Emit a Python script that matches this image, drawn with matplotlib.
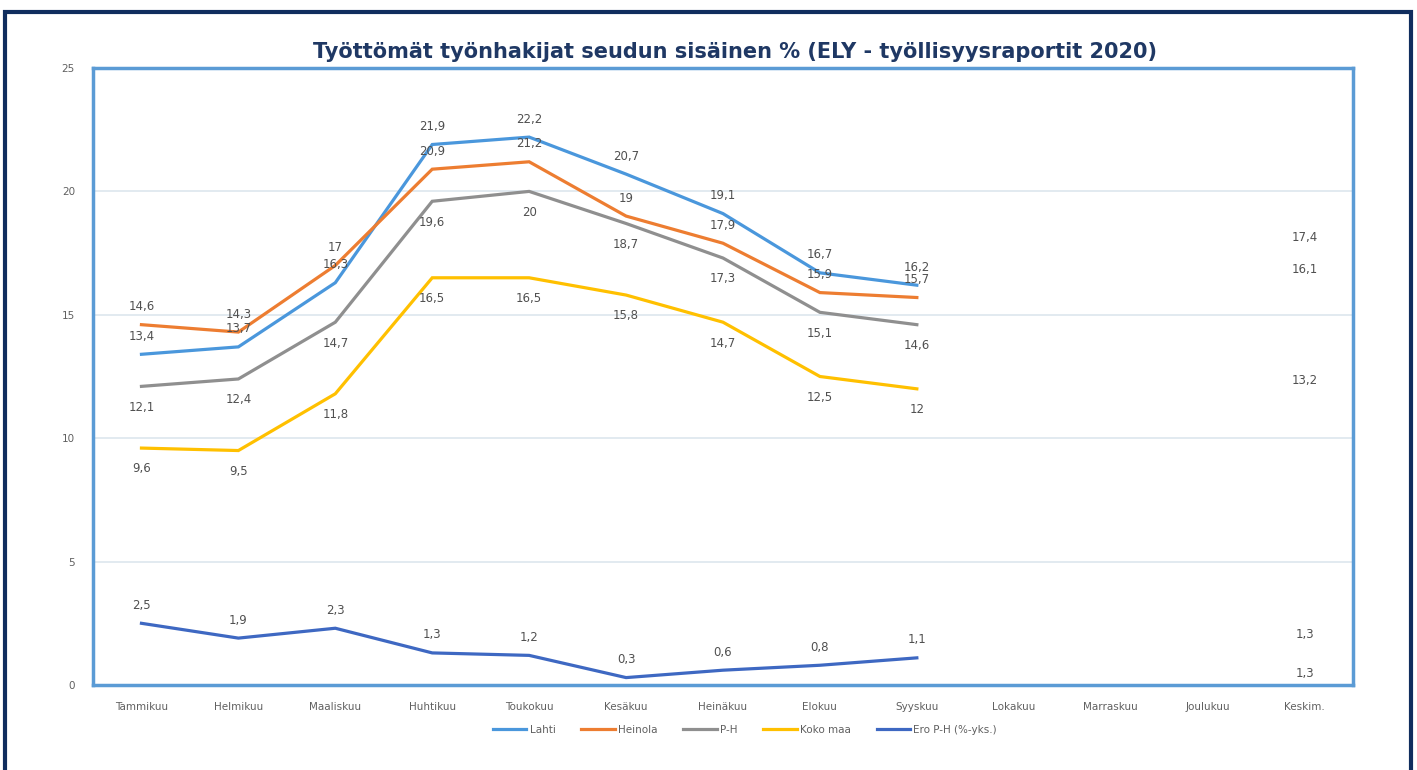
import numpy as np
import matplotlib
matplotlib.use('Agg')
import matplotlib.pyplot as plt
from matplotlib.patches import Rectangle

plt.rcParams['font.family'] = ['DejaVu Sans']

months = ['Tammikuu', 'Helmikuu', 'Maaliskuu', 'Huhtikuu', 'Toukokuu', 'Kesäkuu',
          'Heinäkuu', 'Elokuu', 'Syyskuu', 'Lokakuu', 'Marraskuu', 'Joulukuu', 'Keskim.']
nan = np.nan
lahti = [13.4, 13.7, 16.3, 21.9, 22.2, 20.7, 19.1, 16.7, 16.2, nan, nan, nan, 17.4]
heinola = [14.6, 14.3, 17.0, 20.9, 21.2, 19.0, 17.9, 15.9, 15.7, nan, nan, nan, 16.1]
ph = [12.1, 12.4, 14.7, 19.6, 20.0, 18.7, 17.3, 15.1, 14.6, nan, nan, nan, 1.3]
koko_maa = [9.6, 9.5, 11.8, 16.5, 16.5, 15.8, 14.7, 12.5, 12.0, nan, nan, nan, 13.2]
ero = [2.5, 1.9, 2.3, 1.3, 1.2, 0.3, 0.6, 0.8, 1.1, nan, nan, nan, 1.3]

series = [
    ('Lahti', lahti, '#4a97dc', 'above'),
    ('Heinola', heinola, '#ed7d31', 'above'),
    ('P-H', ph, '#8f8f8f', 'below'),
    ('Koko maa', koko_maa, '#ffc000', 'below'),
    ('Ero P-H (%-yks.)', ero, '#3e68c2', 'above'),
]

W, H = 1417, 770
fig = plt.figure(figsize=(W / 100, H / 100), dpi=100)
ax = fig.add_axes([93 / W, 1 - 685 / H, (1353 - 93) / W, (685 - 68) / H])

x = np.arange(len(months))
for name, vals, col, pos in series:
    v = np.array(vals, dtype=float)
    ax.plot(x, v, color=col, lw=2.3, label=name, solid_joinstyle='miter')
    for xi, yi in zip(x, v):
        if np.isnan(yi):
            continue
        txt = ('%g' % yi).replace('.', ',')
        dy = 13 if pos == 'above' else -15
        ax.annotate(txt, (xi, yi), xytext=(0, dy), textcoords='offset points',
                    ha='center', va='center', fontsize=8.5, color='#505050')

ax.set_xlim(-0.5, len(months) - 0.5)
ax.set_ylim(0, 25)
ax.set_yticks([0, 5, 10, 15, 20, 25])
ax.set_xticks(x)
ax.set_xticklabels(months)
ax.tick_params(axis='both', length=0, labelsize=7.5, labelcolor='#606060')
ax.tick_params(axis='x', pad=12)
ax.tick_params(axis='y', pad=13)
ax.grid(axis='y', color='#dde6ee', lw=1.2)
ax.set_axisbelow(True)
for s in ax.spines.values():
    s.set_color('#5b9bd5')
    s.set_linewidth(2.5)

fig.text(735 / W, 1 - 52 / H, 'Työttömät työnhakijat seudun sisäinen % (ELY - työllisyysraportit 2020)',
         ha='center', va='center', fontsize=15, fontweight='bold', color='#1f3864')

fig.legend(loc='center', bbox_to_anchor=(745 / W, 1 - 730 / H), ncol=5, frameon=False,
           fontsize=7.5, handlelength=3.2, handletextpad=0.3, columnspacing=2.5,
           labelcolor='#606060')

fig.patches.append(Rectangle((5 / W, -0.05), (1411 - 5) / W, 1.05 - 12 / H,
                             transform=fig.transFigure, fill=False,
                             edgecolor='#102d5e', lw=3))

fig.savefig('out.png', dpi=100)
